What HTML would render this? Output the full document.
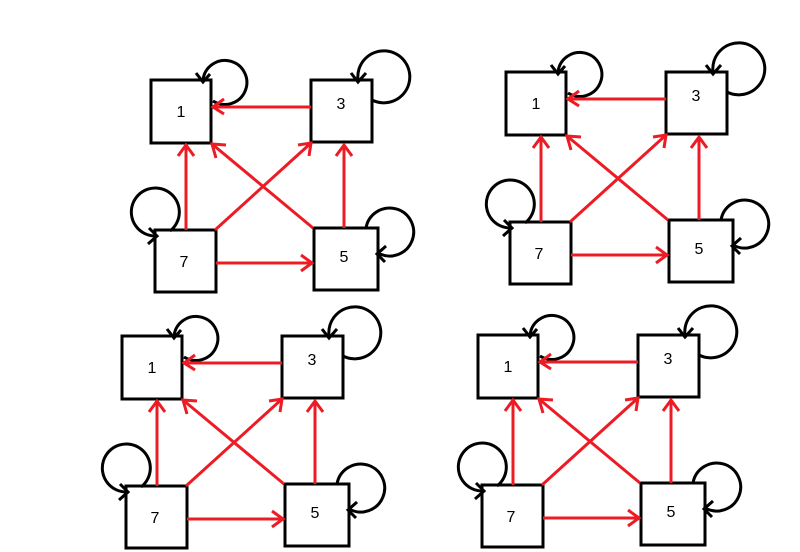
<!DOCTYPE html>
<html><head><style>body{margin:0;background:#fff}svg{display:block}</style></head><body>
<svg width="800" height="552" xmlns="http://www.w3.org/2000/svg">
<defs>
<g id="d">
<g fill="none" stroke="#000" stroke-width="3">
<rect x="151" y="80" width="60" height="63"/>
<rect x="311" y="80" width="61" height="62"/>
<rect x="155" y="230" width="61" height="62"/>
<rect x="314" y="228" width="64" height="62"/>
<path d="M213,101 A22,22 0 1 0 203,80"/>
<path d="M196,73 L203,82 L210,74"/>
<path d="M372,100 A26,26 0 1 0 358,80"/>
<path d="M351,73 L358,82 L366,73"/>
<path d="M170,231 A24,24 0 1 0 155,236"/>
<path d="M148,244 L157,236 L149,228"/>
<path d="M366,228 A24,24 0 1 1 378,253"/>
<path d="M386,246 L377,254 L385,262"/>
</g>
<g fill="none" stroke="#ed1c24" stroke-width="3">
<path d="M311,107 L213,107 M224,99 L213,107 L224,114"/>
<path d="M186,230 L186,145 M178,156 L186,145 L194,156"/>
<path d="M215,230 L311,143 M298,145 L311,143 L309,156"/>
<path d="M313,228 L212,144 M216,158 L212,144 L226,145"/>
<path d="M344,228 L344,145 M336,156 L344,145 L352,156"/>
<path d="M216,263 L312,263 M301,255 L312,263 L301,271"/>
</g>
</g>
</defs>
<g font-family="Liberation Sans, sans-serif" font-size="16" fill="#000" text-anchor="middle">
<use href="#d"/>
<text x="181" y="117">1</text><text x="341" y="109">3</text><text x="184" y="267">7</text><text x="344" y="262">5</text>
<g transform="translate(355,-8)"><use href="#d"/>
<text x="181" y="117">1</text><text x="341" y="109">3</text><text x="184" y="267">7</text><text x="344" y="262">5</text></g>
<g transform="translate(-29,256)"><use href="#d"/>
<text x="181" y="117">1</text><text x="341" y="109">3</text><text x="184" y="267">7</text><text x="344" y="262">5</text></g>
<g transform="translate(327,255)"><use href="#d"/>
<text x="181" y="117">1</text><text x="341" y="109">3</text><text x="184" y="267">7</text><text x="344" y="262">5</text></g>
</g>
</svg>
</body></html>
